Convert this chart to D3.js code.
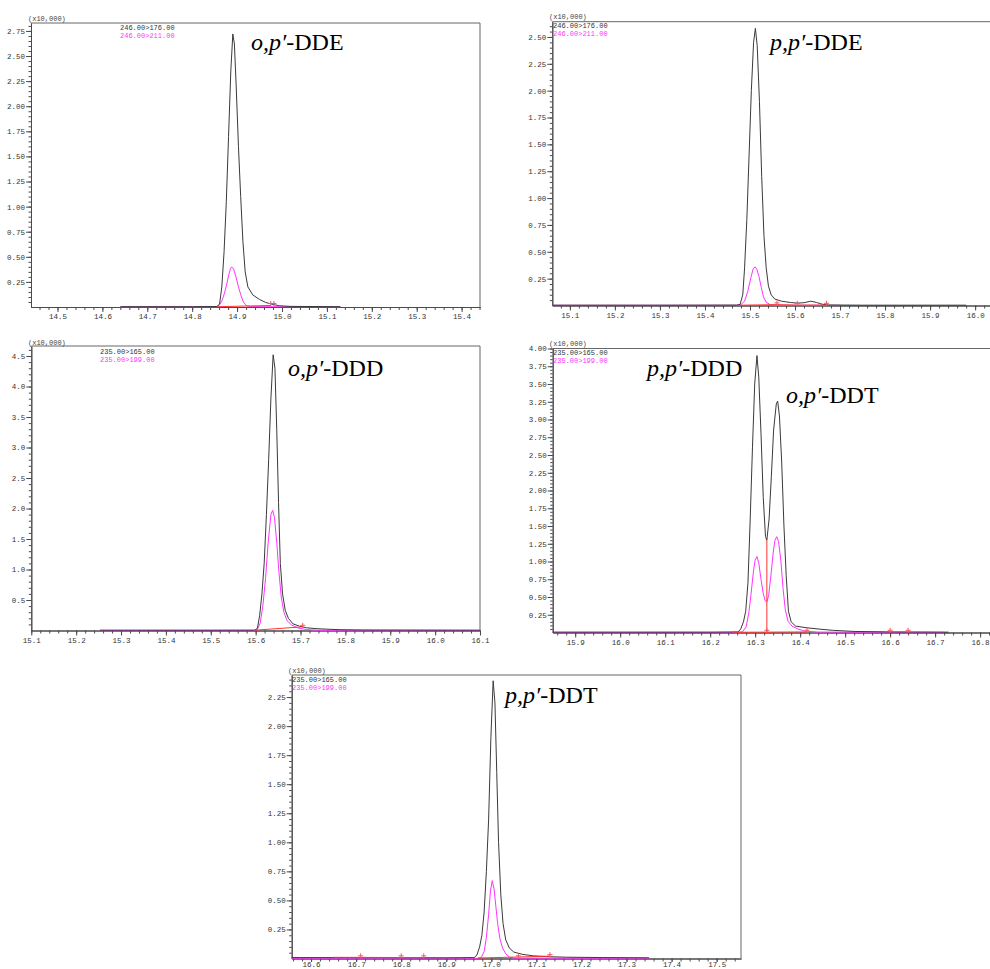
<!DOCTYPE html>
<html>
<head>
<meta charset="utf-8">
<script src="https://cdn.jsdelivr.net/npm/d3@7"></script>
<style>
  body { margin: 0; background: #fff; }
  svg { display: block; }
</style>
</head>
<body>
<div id="chart"></div>
<script>
// ---- data (time in min, intensity x10,000) ----
const opDDE_176 = [[14.64,0.003],[14.80,0.003],[14.855,0.005],[14.861,0.03],[14.866,0.2],[14.871,0.55],[14.876,1.05],[14.881,1.7],[14.886,2.35],[14.8905,2.72],[14.894,2.62],[14.898,2.2],[14.903,1.6],[14.908,1.1],[14.913,0.65],[14.918,0.35],[14.924,0.2],[14.935,0.12],[14.95,0.075],[14.964,0.045],[14.98,0.025],[14.995,0.012],[15.02,0.006],[15.13,0.003]];
const opDDE_211 = [[14.64,0.002],[14.855,0.002],[14.861,0.02],[14.867,0.07],[14.872,0.14],[14.876,0.21],[14.881,0.31],[14.885,0.38],[14.888,0.40],[14.892,0.38],[14.897,0.31],[14.903,0.2],[14.909,0.11],[14.914,0.05],[14.92,0.015],[14.93,0.004],[15.13,0.002]];

const ppDDE_176 = [[15.061,0.003],[15.30,0.003],[15.47,0.004],[15.478,0.01],[15.484,0.1],[15.488,0.35],[15.493,0.8],[15.498,1.4],[15.503,2.0],[15.508,2.45],[15.512,2.58],[15.516,2.42],[15.521,1.9],[15.526,1.2],[15.531,0.65],[15.536,0.35],[15.541,0.18],[15.547,0.1],[15.555,0.06],[15.57,0.04],[15.59,0.028],[15.605,0.022],[15.62,0.026],[15.635,0.04],[15.648,0.028],[15.66,0.012],[15.675,0.005],[15.75,0.003],[15.98,0.003]];
const ppDDE_211 = [[15.061,0.002],[15.47,0.002],[15.48,0.008],[15.488,0.04],[15.495,0.13],[15.502,0.26],[15.507,0.34],[15.511,0.36],[15.515,0.34],[15.52,0.27],[15.525,0.17],[15.53,0.08],[15.536,0.03],[15.545,0.008],[15.56,0.002],[15.70,0.002]];

const opDDD_165 = [[15.253,0.005],[15.5,0.005],[15.598,0.006],[15.604,0.04],[15.609,0.25],[15.614,0.6],[15.619,1.1],[15.624,1.9],[15.629,2.8],[15.634,3.8],[15.639,4.52],[15.643,4.3],[15.647,3.3],[15.651,2.1],[15.655,1.1],[15.66,0.6],[15.666,0.33],[15.673,0.2],[15.683,0.11],[15.698,0.07],[15.713,0.045],[15.735,0.03],[15.758,0.022],[15.79,0.013],[15.84,0.008],[16.1,0.005]];
const opDDD_199 = [[15.253,0.002],[15.598,0.002],[15.604,0.02],[15.61,0.12],[15.616,0.4],[15.622,0.85],[15.628,1.45],[15.634,1.9],[15.638,1.97],[15.642,1.85],[15.647,1.45],[15.652,0.95],[15.657,0.55],[15.663,0.3],[15.67,0.16],[15.68,0.09],[15.695,0.04],[15.713,0.015],[15.74,0.004],[16.1,0.002]];

const ppDDD_165 = [[15.85,0.005],[16.2,0.005],[16.262,0.008],[16.268,0.05],[16.274,0.15],[16.279,0.3],[16.284,0.7],[16.289,1.6],[16.294,2.6],[16.299,3.5],[16.304,3.9],[16.308,3.6],[16.313,2.8],[16.318,1.9],[16.323,1.35],[16.326,1.3],[16.331,1.6],[16.336,2.2],[16.341,2.85],[16.347,3.22],[16.35,3.26],[16.354,3.05],[16.359,2.4],[16.364,1.5],[16.369,0.8],[16.374,0.3],[16.38,0.15],[16.39,0.09],[16.415,0.066],[16.444,0.047],[16.474,0.03],[16.52,0.015],[16.6,0.008],[16.73,0.005]];
const ppDDD_199 = [[15.85,0.002],[16.26,0.002],[16.272,0.01],[16.28,0.08],[16.286,0.28],[16.291,0.55],[16.296,0.85],[16.3,1.02],[16.304,1.07],[16.308,0.98],[16.313,0.75],[16.318,0.55],[16.322,0.45],[16.326,0.43],[16.33,0.52],[16.335,0.8],[16.34,1.12],[16.344,1.3],[16.348,1.35],[16.352,1.28],[16.357,1.02],[16.362,0.62],[16.367,0.32],[16.373,0.16],[16.382,0.09],[16.395,0.05],[16.41,0.02],[16.44,0.006],[16.72,0.002]];

const ppDDT_165 = [[16.557,0.008],[16.9,0.006],[16.962,0.008],[16.968,0.03],[16.974,0.1],[16.979,0.2],[16.984,0.4],[16.989,0.75],[16.994,1.2],[16.999,1.9],[17.004,2.39],[17.008,2.2],[17.012,1.6],[17.016,1.0],[17.021,0.55],[17.026,0.3],[17.032,0.16],[17.04,0.09],[17.05,0.055],[17.07,0.035],[17.093,0.023],[17.13,0.015],[17.17,0.011],[17.25,0.008],[17.35,0.006]];
const ppDDT_199 = [[16.557,0.002],[16.97,0.002],[16.978,0.01],[16.984,0.06],[16.989,0.18],[16.994,0.38],[16.998,0.58],[17.002,0.67],[17.006,0.6],[17.01,0.45],[17.014,0.3],[17.019,0.17],[17.025,0.09],[17.032,0.04],[17.04,0.012],[17.05,0.003],[17.35,0.002]];

// integration baselines (red) and peak marks
const opDDE_base = [[[14.855,0.003],[14.975,0.015]]];
const ppDDE_base = [[[15.478,0.003],[15.56,0.008],[15.605,0.004],[15.67,0.004]]];
const opDDD_base = [[[15.598,0.005],[15.705,0.06]]];
const ppDDD_base = [[[16.25,0.003],[16.415,0.008]], [[16.326,0],[16.326,1.3]]];
const ppDDT_base = [[[16.65,0.01],[16.85,0.008]], [[16.97,0.004],[17.13,0.02]]];

const opDDE_marks = [[14.975,0.02],[14.982,0.02]];
const ppDDE_marks = [[15.56,0.01],[15.605,0.006],[15.67,0.006]];
const opDDD_marks = [[15.705,0.06]];
const ppDDD_marks = [[16.326,0.01],[16.415,0.01],[16.6,0.01],[16.64,0.01]];
const ppDDT_marks = [[16.71,0.01],[16.80,0.01],[16.85,0.01],[17.06,0.01],[17.13,0.02]];

// tick values
const xTicks1 = [14.5,14.6,14.7,14.8,14.9,15.0,15.1,15.2,15.3,15.4];
const xTicks2 = [15.1,15.2,15.3,15.4,15.5,15.6,15.7,15.8,15.9,16.0];
const xTicks3 = [15.1,15.2,15.3,15.4,15.5,15.6,15.7,15.8,15.9,16.0,16.1];
const xTicks4 = [15.9,16.0,16.1,16.2,16.3,16.4,16.5,16.6,16.7,16.8];
const xTicks5 = [16.6,16.7,16.8,16.9,17.0,17.1,17.2,17.3,17.4,17.5];
const yTicks1 = [0.25,0.50,0.75,1.00,1.25,1.50,1.75,2.00,2.25,2.50,2.75];
const yTicks2 = [0.25,0.50,0.75,1.00,1.25,1.50,1.75,2.00,2.25,2.50];
const yTicks3 = [0.5,1.0,1.5,2.0,2.5,3.0,3.5,4.0,4.5];
const yTicks4 = [0.25,0.50,0.75,1.00,1.25,1.50,1.75,2.00,2.25,2.50,2.75,3.00,3.25,3.50,3.75,4.00];
const yTicks5 = [0.25,0.50,0.75,1.00,1.25,1.50,1.75,2.00,2.25];

// ---- layout ----
const panels = [
  { left: 31, right: 480, top: 23, bottom: 307, xDom: [14.441, 15.441], yTop: 2.829,
    xTicks: xTicks1, yTicks: yTicks1, yMinor: 0.05, yFmt: '.2f', box: true, xTick: 5, xPad: 2,
    main: opDDE_176, qual: opDDE_211, base: opDDE_base, marks: opDDE_marks,
    ions: ['246.00>176.00', '246.00>211.00'], ionX: 120, ionY: 28, unitX: 28, unitY: 19,
    titles: [{ it: 'o,p′', rest: '-DDE', x: 251, y: 50 }] },
  { left: 552.3, right: 990, top: 21.7, bottom: 305.5, xDom: [15.061, 16.033], yTop: 2.642,
    xTicks: xTicks2, yTicks: yTicks2, yMinor: 0.05, yFmt: '.2f', box: false, xTick: 5, xPad: 2,
    main: ppDDE_176, qual: ppDDE_211, base: ppDDE_base, marks: ppDDE_marks,
    ions: ['246.00>176.00', '246.00>211.00'], ionX: 553, ionY: 26, unitX: 549, unitY: 17,
    titles: [{ it: 'p,p′', rest: '-DDE', x: 770, y: 50 }] },
  { left: 31.3, right: 480, top: 346, bottom: 630.5, xDom: [15.1, 16.1], yTop: 4.664,
    xTicks: xTicks3, yTicks: yTicks3, yMinor: 0.1, yFmt: '.1f', box: true, xTick: 5, xPad: 2,
    main: opDDD_165, qual: opDDD_199, base: opDDD_base, marks: opDDD_marks,
    ions: ['235.00>165.00', '235.00>199.00'], ionX: 100, ionY: 351.3, unitX: 28, unitY: 343,
    titles: [{ it: 'o,p′', rest: '-DDD', x: 288, y: 375.5 }] },
  { left: 552.7, right: 990, top: 348.5, bottom: 632.5, xDom: [15.85, 16.822], yTop: 4.0,
    xTicks: xTicks4, yTicks: yTicks4, yMinor: 0.05, yFmt: '.2f', box: false, xTick: 5, xPad: 2,
    main: ppDDD_165, qual: ppDDD_199, base: ppDDD_base, marks: ppDDD_marks,
    ions: ['235.00>165.00', '235.00>199.00'], ionX: 553, ionY: 352.7, unitX: 549, unitY: 344,
    titles: [{ it: 'p,p′', rest: '-DDD', x: 647, y: 375.5 }, { it: 'o,p′', rest: '-DDT', x: 786, y: 402.5 }] },
  { left: 291.7, right: 741, top: 675, bottom: 958.5, xDom: [16.557, 17.554], yTop: 2.44,
    xTicks: xTicks5, yTicks: yTicks5, yMinor: 0.05, yFmt: '.2f', box: true, xTick: 3.5, xPad: 0,
    main: ppDDT_165, qual: ppDDT_199, base: ppDDT_base, marks: ppDDT_marks,
    ions: ['235.00>165.00', '235.00>199.00'], ionX: 292, ionY: 679.3, unitX: 288, unitY: 671,
    titles: [{ it: 'p,p′', rest: '-DDT', x: 505, y: 703 }] }
];

const svg = d3.select('#chart').append('svg').attr('width', 990).attr('height', 969);

const axisColor = '#4a4a4a';
const monoFont = '"Liberation Mono", "DejaVu Sans Mono", monospace';

panels.forEach(function(p) {
  const x = d3.scaleLinear().domain(p.xDom).range([p.left, p.right]);
  const y = d3.scaleLinear().domain([0, p.yTop]).range([p.bottom, p.top]);
  const g = svg.append('g');

  // frame
  g.append('line').attr('x1', p.left).attr('x2', p.right).attr('y1', p.top).attr('y2', p.top)
    .attr('stroke', '#666').attr('stroke-width', 1);
  if (p.box) {
    g.append('line').attr('x1', p.right).attr('x2', p.right).attr('y1', p.top).attr('y2', p.bottom)
      .attr('stroke', '#666').attr('stroke-width', 1);
  }

  // minor ticks
  const xMinor = d3.range(Math.ceil(p.xDom[0] / 0.02), Math.floor(p.xDom[1] / 0.02) + 1).map(function(i) { return i * 0.02; });
  const yMinorVals = d3.range(1, Math.floor(p.yTop / p.yMinor + 1e-6) + 1).map(function(i) { return i * p.yMinor; });

  const xAxis = d3.axisBottom(x).tickValues(p.xTicks).tickFormat(d3.format('.1f')).tickSize(p.xTick).tickSizeOuter(0).tickPadding(p.xPad);
  const xAxisMinor = d3.axisBottom(x).tickValues(xMinor).tickFormat('').tickSize(3).tickSizeOuter(0);
  const yAxis = d3.axisLeft(y).tickValues(p.yTicks).tickFormat(d3.format(p.yFmt)).tickSize(5).tickSizeOuter(0).tickPadding(1);
  const yAxisMinor = d3.axisLeft(y).tickValues(yMinorVals).tickFormat('').tickSize(2.5).tickSizeOuter(0);

  [[xAxisMinor, 'x'], [xAxis, 'x'], [yAxisMinor, 'y'], [yAxis, 'y']].forEach(function(a) {
    const ag = g.append('g')
      .attr('transform', a[1] === 'x' ? 'translate(0,' + p.bottom + ')' : 'translate(' + p.left + ',0)')
      .call(a[0]);
    ag.select('.domain').attr('stroke', axisColor);
    ag.selectAll('.tick line').attr('stroke', axisColor);
    ag.selectAll('.tick text').attr('fill', '#333').attr('font-family', monoFont).attr('font-size', 7.5);
  });

  const line = d3.line().x(function(d) { return x(d[0]); }).y(function(d) { return y(d[1]); });

  // qualifier ion (magenta), then quantifier (dark)
  g.append('path').datum(p.qual).attr('d', line).attr('fill', 'none').attr('stroke', '#ff33ff').attr('stroke-width', 1);
  g.append('path').datum(p.main).attr('d', line).attr('fill', 'none').attr('stroke', '#3a3a3a').attr('stroke-width', 1);

  // integration baselines
  p.base.forEach(function(seg) {
    g.append('path').datum(seg).attr('d', line).attr('fill', 'none').attr('stroke', '#ff3333').attr('stroke-width', 1);
  });

  // peak start / end marks
  g.selectAll('.mark').data(p.marks).enter().append('path')
    .attr('class', 'mark')
    .attr('d', function(d) {
      const cx = x(d[0]), cy = y(d[1]);
      return 'M' + cx + ',' + (cy - 4) + 'V' + (cy + 1) + 'M' + (cx - 2.5) + ',' + (cy - 1.5) + 'H' + (cx + 2.5);
    })
    .attr('stroke', '#ff5555').attr('stroke-width', 1).attr('fill', 'none');

  // unit label and ion legend
  g.append('text').attr('x', p.unitX).attr('y', p.unitY).attr('dy', '0.35em')
    .attr('font-family', monoFont).attr('font-size', 7).attr('fill', '#444').text('(x10,000)');
  p.ions.forEach(function(t, i) {
    g.append('text').attr('x', p.ionX).attr('y', p.ionY + i * 8).attr('dy', '0.35em')
      .attr('font-family', monoFont).attr('font-size', 7)
      .attr('fill', i === 0 ? '#333' : '#ff33ff').text(t);
  });

  // compound names
  p.titles.forEach(function(t) {
    const tx = g.append('text').attr('x', t.x).attr('y', t.y)
      .attr('font-family', '"Liberation Serif", "Times New Roman", serif').attr('font-size', 24).attr('fill', '#000');
    tx.append('tspan').attr('font-style', 'italic').text(t.it);
    tx.append('tspan').text(t.rest);
  });
});
</script>
</body>
</html>
